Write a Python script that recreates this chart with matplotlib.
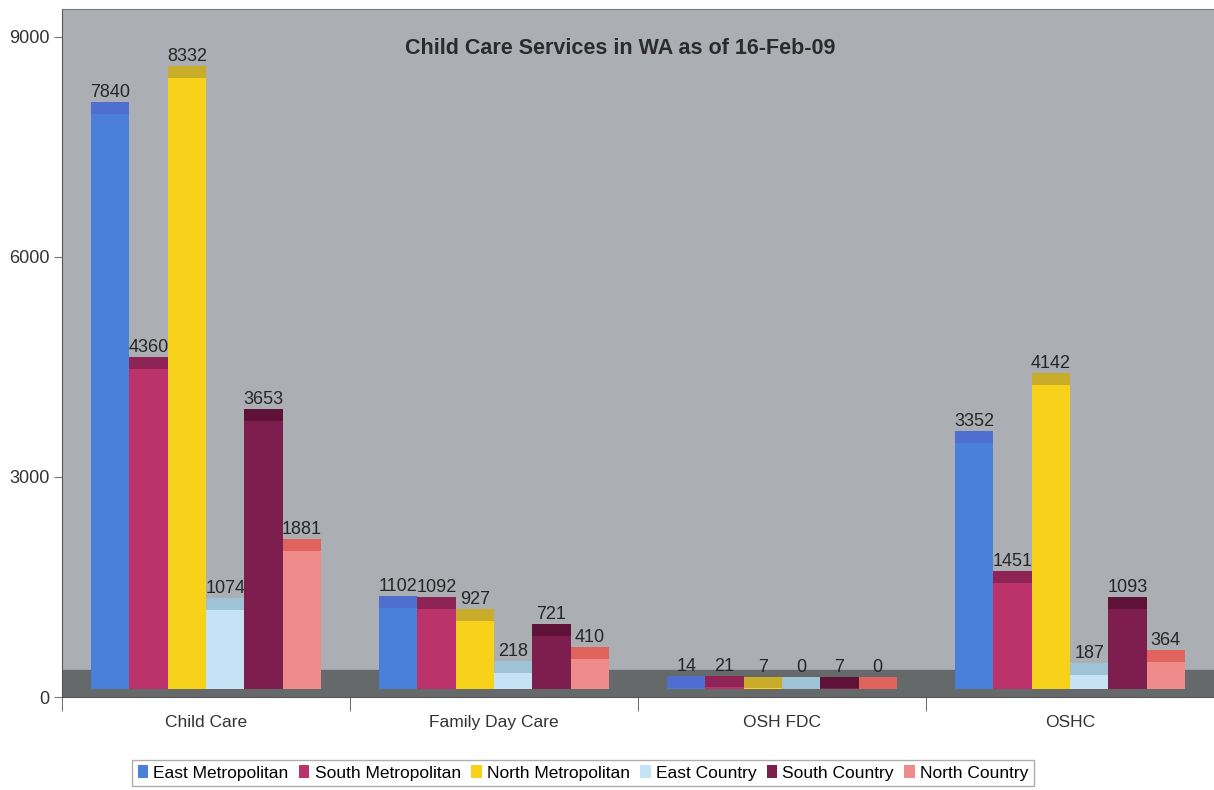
import matplotlib.pyplot as plt
import numpy as np
from matplotlib.patches import Patch

plt.rcParams['font.family'] = ['Liberation Sans', 'DejaVu Sans']

# service counts per region
services = ['Child Care', 'Family Day Care', 'OSH FDC', 'OSHC']
regions = ['East Metropolitan', 'South Metropolitan', 'North Metropolitan',
           'East Country', 'South Country', 'North Country']
east_metro = [7840, 1102, 14, 3352]
south_metro = [4360, 1092, 21, 1451]
north_metro = [8332, 927, 7, 4142]
east_country = [1074, 218, 0, 187]
south_country = [3653, 721, 7, 1093]
north_country = [1881, 410, 0, 364]

series = [east_metro, south_metro, north_metro,
          east_country, south_country, north_country]
face_colors = ['#4a80da', '#bb336a', '#f8d21a', '#c6e3f5', '#7e1e4e', '#f08b8b']
top_colors = ['#4f6fd0', '#8e2455', '#c9ad2a', '#9fc3d6', '#5e1238', '#e0645c']

fig = plt.figure(figsize=(12.14, 7.9), dpi=100)
ax = fig.add_axes([62 / 1214, 93 / 790, 1152 / 1214, 688 / 790])
ax.set_facecolor('#abafb4')

x = np.arange(len(services))
width = 0.133
lift = 110      # bars stand on the floor slab
cap = 160       # depth of the darker top face

# floor slab
ax.axhspan(0, 370, color='#65696a', zorder=1)

for i, (vals, fc, tc) in enumerate(zip(series, face_colors, top_colors)):
    pos = x + (i - 2.5) * width
    ax.bar(pos, vals, width, bottom=lift, color=fc, zorder=2)
    ax.bar(pos, cap, width, bottom=lift + np.array(vals), color=tc, zorder=2)
    for p, v in zip(pos, vals):
        ax.text(p, lift + v + cap + 15, str(v), ha='center', va='bottom',
                fontsize=13, color='#262626', zorder=3)

ax.set_xlim(-0.5, -0.5 + 1152 / 289.5)
ax.set_ylim(0, 9380)
ax.set_yticks([0, 3000, 6000, 9000])
ax.set_yticklabels(['0', '3000', '6000', '9000'], fontsize=13, color='#333333')
ax.set_xticks(x)
ax.set_xticklabels(services, fontsize=12.5, color='#333333')
ax.set_xticks(np.arange(-0.5, 3.6, 1), minor=True)
ax.tick_params(axis='x', which='major', length=0, pad=13)
ax.tick_params(axis='x', which='minor', length=10, color='#555555')
ax.tick_params(axis='y', length=6, color='#777777', pad=3)

ax.spines['right'].set_visible(False)
ax.spines['left'].set_color('#555555')
ax.spines['top'].set_color('#777777')
ax.spines['bottom'].set_color('#555555')

fig.text(620 / 1214, 1 - 48 / 790, 'Child Care Services in WA as of 16-Feb-09',
         ha='center', va='center', fontsize=15.5, fontweight='bold',
         color='#2b2b2b', zorder=4)

handles = [Patch(facecolor=c, edgecolor='none') for c in face_colors]
fig.legend(handles, regions, loc='center', bbox_to_anchor=(583 / 1214, 1 - 773 / 790),
           ncol=6, fontsize=12.5, frameon=True, fancybox=False, edgecolor='#999999',
           handlelength=0.6, handleheight=0.8, handletextpad=0.3, columnspacing=0.6,
           borderpad=0.3)

fig.savefig('out.png', dpi=100, facecolor='white')
